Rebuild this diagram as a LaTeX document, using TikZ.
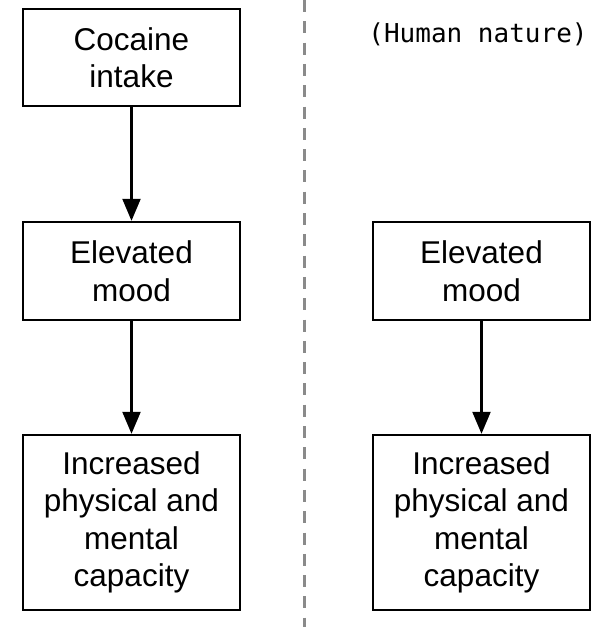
\documentclass[tikz,border=0pt]{standalone}
\usepackage{fontspec}
\setmainfont{Liberation Sans}
\newfontfamily\monofont{DejaVu Sans Mono}
\usetikzlibrary{arrows.meta}
\definecolor{dashgray}{HTML}{8A8A8A}
\begin{document}
\begin{tikzpicture}[x=1pt,y=-1pt,
  box/.style={draw, line width=2.4pt, minimum width=217pt, align=center,
    font=\fontsize{31.5}{37.5}\selectfont, inner sep=0pt},
  arr/.style={-{Triangle[length=22pt,width=18pt]}, line width=2.3pt},
  sep/.style={dashgray, line width=2.2pt, dash pattern=on 12pt off 9.3pt},
  lbl/.style={font=\monofont\fontsize{26}{30}\selectfont, anchor=base, inner sep=0pt}]
\useasboundingbox (0,0) rectangle (599,627);
% separator
\coordinate (stop) at (304.5,0);
\coordinate (sbot) at (304.5,627);
\draw[sep] (stop) -- (sbot);
% left column
\node[box, minimum height=97pt] (c1) at (131.5,57.5) {Cocaine\\intake};
\node[box, minimum height=98pt] (m1) at (131.5,271) {Elevated\\mood};
\node[box, minimum height=175pt] (p1) at (131.5,522.5) {Increased\\physical and\\mental\\capacity};
% right column
\node[lbl] (hn) at (478,42) {(Human nature)};
\node[box, minimum height=98pt] (m2) at (481.5,271) {Elevated\\mood};
\node[box, minimum height=175pt] (p2) at (481.5,522.5) {Increased\\physical and\\mental\\capacity};
% arrows
\draw[arr] (c1) -- (m1);
\draw[arr] (m1) -- (p1);
\draw[arr] (m2) -- (p2);
\end{tikzpicture}
\end{document}
